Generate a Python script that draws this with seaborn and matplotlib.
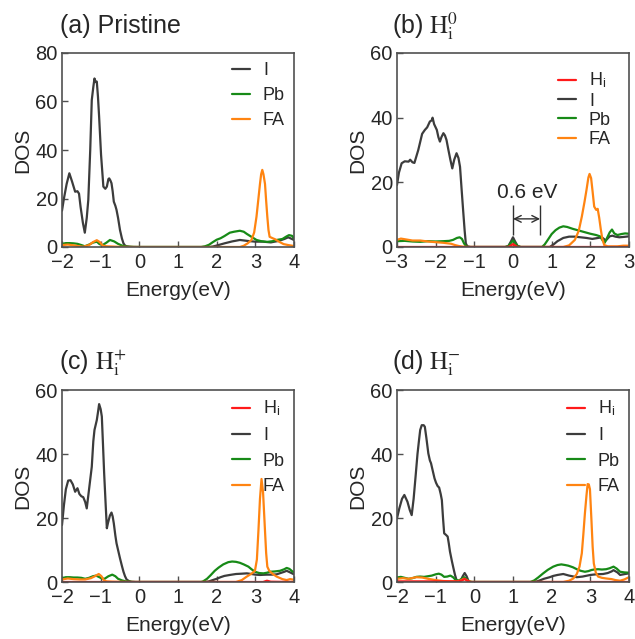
import matplotlib
matplotlib.use("Agg")
import matplotlib.pyplot as plt
import seaborn as sns
import pandas as pd

# ---------------- data (Energy eV, DOS) ----------------
a_I = [(-2.0, 15), (-1.95, 20), (-1.88, 26), (-1.81, 30.4), (-1.74, 27), (-1.66, 22.8), (-1.6, 23), (-1.56, 22),
       (-1.52, 16.6), (-1.46, 10), (-1.41, 5.9), (-1.36, 12), (-1.32, 19.4), (-1.27, 40), (-1.23, 60.6), (-1.19, 66),
       (-1.16, 69.5), (-1.13, 68), (-1.10, 68.2), (-1.07, 62), (-1.04, 53.7), (-0.99, 38), (-0.93, 24.9), (-0.88, 24),
       (-0.84, 24.9), (-0.80, 28), (-0.78, 28.3), (-0.75, 27.5), (-0.72, 26.3), (-0.69, 23), (-0.66, 18.7), (-0.62, 17),
       (-0.59, 15.3), (-0.55, 12), (-0.50, 7), (-0.45, 3.5), (-0.41, 1.5), (-0.37, 0.6), (-0.33, 0.3), (-0.25, 0.1),
       (-0.15, 0), (1.8, 0), (1.9, 0.2), (2.0, 0.6), (2.2, 1.5), (2.4, 2.3), (2.6, 2.9), (2.8, 2.5), (3.0, 2.2),
       (3.2, 2.2), (3.4, 1.9), (3.6, 2.5), (3.75, 3.3), (3.85, 4.0), (3.92, 3.5), (4.0, 2.9)]
a_Pb = [(-2.0, 1.3), (-1.9, 1.6), (-1.8, 1.6), (-1.7, 1.5), (-1.6, 1.3), (-1.5, 0.8), (-1.41, 0.3), (-1.3, 1.0),
        (-1.2, 1.8), (-1.1, 2.2), (-1.03, 1.2), (-0.95, 0.8), (-0.85, 1.8), (-0.76, 2.9), (-0.65, 2.3), (-0.55, 1.3),
        (-0.45, 0.6), (-0.35, 0.2), (-0.2, 0.05), (0.0, 0), (1.6, 0), (1.7, 0.3), (1.8, 0.9), (1.9, 2.0), (2.0, 3.0),
        (2.1, 3.6), (2.2, 4.5), (2.34, 5.9), (2.45, 6.3), (2.6, 6.7), (2.7, 6.3), (2.78, 5.4), (2.9, 4.2), (3.03, 2.9),
        (3.15, 2.4), (3.3, 2.1), (3.45, 2.4), (3.55, 2.9), (3.7, 3.3), (3.8, 4.3), (3.87, 4.9), (3.95, 4.6), (4.0, 3.5)]
a_FA = [(-2.0, 0.8), (-1.85, 1.0), (-1.7, 0.7), (-1.55, 0.3), (-1.45, 0.1), (-1.3, 0.8), (-1.2, 2.0), (-1.1, 2.8),
        (-1.02, 2.0), (-0.95, 0.6), (-0.85, 0.3), (-0.7, 0.2), (-0.5, 0.05), (0.0, 0), (2.6, 0), (2.7, 0.5),
        (2.8, 1.5), (2.9, 2.9), (2.97, 6), (3.03, 12.5), (3.08, 20), (3.12, 26), (3.15, 30), (3.18, 31.8), (3.21, 30),
        (3.25, 26), (3.28, 19), (3.31, 12.5), (3.34, 7), (3.37, 4.2), (3.45, 3.6), (3.51, 3.2), (3.6, 2.3),
        (3.73, 1.2), (3.85, 0.8), (4.0, 0.4)]

b_H = [(-3.0, 0), (-0.12, 0), (-0.05, 0.5), (0.0, 0.9), (0.05, 0.5), (0.12, 0), (3.0, 0)]
b_I = [(-3.0, 19.2), (-2.95, 23), (-2.88, 25.9), (-2.8, 26.5), (-2.7, 26.4), (-2.66, 27), (-2.6, 26.2), (-2.55, 26),
       (-2.5, 28), (-2.45, 30), (-2.41, 32), (-2.35, 35), (-2.28, 36.2), (-2.22, 37), (-2.15, 38.8), (-2.1, 39.2),
       (-2.08, 40), (-2.04, 38), (-1.97, 36.2), (-1.93, 34), (-1.89, 32.6), (-1.85, 34), (-1.8, 35.2), (-1.76, 34.5),
       (-1.72, 33.1), (-1.67, 30), (-1.62, 27), (-1.57, 24.3), (-1.52, 27), (-1.46, 29), (-1.41, 27.5), (-1.37, 24.8),
       (-1.33, 18), (-1.29, 11.4), (-1.25, 5), (-1.22, 1.1), (-1.18, 0.2), (-1.1, 0), (-0.2, 0), (-0.12, 0.3),
       (-0.05, 1.8), (0.0, 3.0), (0.05, 1.8), (0.12, 0.3), (0.2, 0), (0.95, 0), (1.05, 0.8), (1.15, 1.8), (1.3, 2.8),
       (1.45, 3.2), (1.6, 3.2), (1.75, 3.0), (1.9, 2.8), (2.05, 2.5), (2.2, 2.8), (2.3, 3.0), (2.4, 2.0), (2.5, 3.3),
       (2.57, 3.5), (2.65, 3.2), (2.75, 3.0), (2.85, 3.1), (3.0, 3.3)]
b_Pb = [(-3.0, 1.8), (-2.8, 1.9), (-2.6, 1.7), (-2.4, 1.6), (-2.2, 1.8), (-2.0, 1.7), (-1.8, 1.8), (-1.65, 1.9),
        (-1.55, 2.2), (-1.45, 2.8), (-1.38, 3.0), (-1.32, 2.5), (-1.27, 1.2), (-1.22, 0.3), (-1.15, 0), (-0.2, 0),
        (-0.12, 0.3), (-0.05, 1.3), (0.0, 2.0), (0.05, 1.3), (0.12, 0.3), (0.2, 0), (0.75, 0), (0.82, 0.8),
        (0.9, 2.2), (1.0, 4.0), (1.1, 5.2), (1.2, 6.0), (1.3, 6.4), (1.4, 6.2), (1.55, 5.6), (1.7, 5.1), (1.85, 4.6),
        (2.0, 4.1), (2.15, 3.7), (2.25, 3.3), (2.32, 2.0), (2.37, 1.3), (2.42, 2.5), (2.5, 4.5), (2.56, 5.4),
        (2.62, 4.2), (2.7, 3.7), (2.8, 4.0), (2.9, 4.2), (3.0, 4.1)]
b_FA = [(-3.0, 2.2), (-2.9, 2.6), (-2.8, 2.4), (-2.6, 2.0), (-2.4, 2.0), (-2.2, 1.7), (-2.0, 1.5), (-1.8, 1.3),
        (-1.6, 1.0), (-1.5, 0.6), (-1.4, 0.3), (-1.3, 0.1), (-1.2, 0), (1.3, 0), (1.45, 0.5), (1.6, 2.2), (1.7, 5),
        (1.78, 9.4), (1.85, 14), (1.9, 17.6), (1.95, 21.5), (1.98, 22.6), (2.02, 21.3), (2.06, 17), (2.1, 12.5),
        (2.15, 11.5), (2.19, 11.8), (2.23, 9), (2.27, 5.5), (2.31, 2.5), (2.36, 0.6), (2.45, 0.2), (2.7, 0.2),
        (2.85, 0.4), (3.0, 0.4)]

c_H = [(-2.0, 0), (3.2, 0), (3.3, 0.4), (3.4, 0.1), (4.0, 0)]
c_I = [(-2.0, 17.8), (-1.95, 24), (-1.9, 29), (-1.84, 31.7), (-1.78, 31.8), (-1.72, 30.5), (-1.66, 28.2),
       (-1.6, 29.3), (-1.55, 27.5), (-1.5, 26.8), (-1.45, 26.5), (-1.4, 25), (-1.36, 23), (-1.3, 29), (-1.23, 36),
       (-1.19, 44), (-1.16, 47.5), (-1.1, 50.6), (-1.07, 53), (-1.04, 55.6), (-1.0, 54), (-0.97, 51.7), (-0.94, 43),
       (-0.91, 34), (-0.87, 24), (-0.84, 16.8), (-0.81, 18.5), (-0.76, 20.8), (-0.72, 21.7), (-0.69, 20.5),
       (-0.66, 18.3), (-0.62, 14.5), (-0.59, 12.1), (-0.55, 10), (-0.5, 7.4), (-0.45, 5), (-0.41, 3.2), (-0.37, 1.8),
       (-0.33, 0.8), (-0.27, 0.3), (-0.2, 0.05), (-0.1, 0), (1.7, 0), (1.8, 0.2), (1.9, 0.6), (2.0, 1.0), (2.1, 1.5),
       (2.2, 1.9), (2.34, 2.2), (2.5, 2.5), (2.65, 2.6), (2.78, 2.7), (2.9, 2.5), (3.0, 2.3), (3.12, 2.2), (3.3, 2.3),
       (3.45, 2.3), (3.55, 2.4), (3.65, 2.8), (3.75, 3.2), (3.81, 3.5), (3.9, 3.0), (4.0, 2.4)]
c_Pb = [(-2.0, 1.2), (-1.9, 1.5), (-1.8, 1.5), (-1.7, 1.4), (-1.6, 1.4), (-1.5, 1.3), (-1.4, 1.0), (-1.3, 1.3),
        (-1.2, 1.8), (-1.12, 2.0), (-1.05, 1.6), (-0.97, 1.1), (-0.9, 1.0), (-0.8, 1.8), (-0.7, 2.3), (-0.62, 1.8),
        (-0.55, 1.0), (-0.45, 0.5), (-0.35, 0.2), (-0.2, 0.05), (-0.1, 0), (1.6, 0), (1.65, 0.2), (1.75, 1.0),
        (1.85, 2.2), (1.95, 3.5), (2.05, 4.5), (2.17, 5.5), (2.3, 6.2), (2.4, 6.4), (2.5, 6.3), (2.6, 6.0),
        (2.7, 5.5), (2.82, 4.8), (2.9, 4.0), (2.99, 3.2), (3.1, 2.8), (3.21, 2.7), (3.3, 2.9), (3.38, 3.2),
        (3.5, 3.3), (3.64, 3.5), (3.75, 4.0), (3.81, 4.4), (3.88, 4.1), (3.95, 3.4), (4.0, 3.0)]
c_FA = [(-2.0, 0.8), (-1.85, 1.1), (-1.7, 0.9), (-1.55, 0.8), (-1.4, 0.8), (-1.25, 1.2), (-1.15, 1.8), (-1.05, 2.5),
        (-0.98, 1.8), (-0.92, 0.6), (-0.85, 0.2), (-0.7, 0.1), (-0.5, 0.05), (-0.3, 0), (2.5, 0), (2.65, 0.6),
        (2.78, 1.7), (2.9, 2.6), (2.99, 3.5), (3.04, 7), (3.08, 16), (3.12, 26), (3.16, 32.2), (3.2, 28),
        (3.25, 16), (3.28, 9), (3.31, 4.8), (3.36, 3.5), (3.45, 2.5), (3.55, 1.7), (3.7, 0.9), (3.81, 0.6),
        (3.9, 0.9), (4.0, 0.7)]

d_H = [(-2.0, 0.2), (-0.4, 0.2), (-0.3, 0.6), (-0.25, 1.0), (-0.2, 0.5), (-0.1, 0.0), (4.0, 0.0)]
d_I = [(-2.0, 19.9), (-1.94, 23), (-1.87, 26), (-1.81, 27.2), (-1.73, 25.1), (-1.67, 22.5), (-1.62, 20.9),
       (-1.57, 26), (-1.52, 32.9), (-1.47, 40), (-1.43, 44.4), (-1.4, 47.5), (-1.36, 49), (-1.31, 49), (-1.28, 48.5),
       (-1.24, 45), (-1.19, 40.2), (-1.15, 38), (-1.12, 37.1), (-1.08, 35), (-1.03, 32.4), (-0.99, 31), (-0.95, 30),
       (-0.91, 29.5), (-0.87, 27.5), (-0.84, 25.6), (-0.81, 20), (-0.78, 15.2), (-0.74, 14.8), (-0.69, 14.2),
       (-0.66, 12), (-0.63, 9.5), (-0.58, 6.5), (-0.54, 4.3), (-0.5, 2.2), (-0.46, 0.6), (-0.41, 0.1), (-0.35, 0.5),
       (-0.3, 1.8), (-0.25, 2.8), (-0.2, 1.8), (-0.15, 0.3), (-0.1, 0), (1.55, 0), (1.65, 0.3), (1.8, 1.0),
       (1.95, 1.5), (2.04, 1.9), (2.15, 2.2), (2.3, 2.5), (2.45, 2.0), (2.65, 1.5), (2.8, 1.7), (3.0, 2.2),
       (3.15, 2.4), (3.33, 2.5), (3.45, 2.8), (3.55, 3.3), (3.6, 3.7), (3.7, 3.0), (3.77, 2.2), (3.9, 2.5), (4.0, 2.7)]
d_Pb = [(-2.0, 1.4), (-1.9, 1.6), (-1.8, 1.3), (-1.7, 1.0), (-1.6, 1.2), (-1.5, 1.6), (-1.4, 1.7), (-1.3, 1.6),
        (-1.2, 1.8), (-1.1, 2.0), (-1.0, 2.4), (-0.92, 2.6), (-0.85, 2.3), (-0.78, 1.6), (-0.7, 1.7), (-0.62, 2.0),
        (-0.55, 1.5), (-0.48, 0.6), (-0.4, 0.5), (-0.32, 1.0), (-0.26, 1.5), (-0.2, 0.8), (-0.12, 0.1), (-0.05, 0),
        (1.45, 0), (1.55, 0.5), (1.65, 1.4), (1.78, 2.7), (1.9, 3.8), (2.04, 4.8), (2.15, 5.3), (2.25, 5.5),
        (2.35, 5.3), (2.43, 5.1), (2.55, 4.6), (2.65, 4.0), (2.75, 3.5), (2.86, 3.2), (2.95, 3.4), (3.03, 3.75),
        (3.1, 3.9), (3.2, 4.0), (3.3, 3.9), (3.41, 4.0), (3.5, 4.3), (3.6, 4.8), (3.68, 4.2), (3.77, 3.2),
        (3.88, 3.0), (4.0, 2.9)]
d_FA = [(-2.0, 1.0), (-1.85, 1.2), (-1.7, 1.0), (-1.5, 1.5), (-1.35, 1.4), (-1.2, 1.0), (-1.0, 0.6), (-0.8, 0.3),
        (-0.6, 0.2), (-0.45, 0.2), (-0.35, 0.5), (-0.27, 1.0), (-0.2, 0.6), (-0.12, 0.1), (-0.05, 0), (2.3, 0),
        (2.45, 0.4), (2.56, 1.1), (2.65, 2.5), (2.72, 4.8), (2.78, 9), (2.82, 15), (2.86, 21.5), (2.9, 27),
        (2.93, 30.6), (2.96, 30.5), (2.99, 29), (3.01, 24), (3.03, 19), (3.06, 11), (3.09, 5.8), (3.14, 3),
        (3.2, 1.7), (3.3, 1.3), (3.41, 1.1), (3.55, 0.9), (3.65, 0.6), (3.77, 0.4), (3.88, 0.8), (4.0, 1.5)]

panel_titles = ["(a) Pristine", r"(b) $\mathrm{H}_\mathrm{i}^{0}$",
                r"(c) $\mathrm{H}_\mathrm{i}^{+}$", r"(d) $\mathrm{H}_\mathrm{i}^{-}$"]
xlims = [(-2, 4), (-3, 3), (-2, 4), (-2, 4)]
ylims = [(0, 80), (0, 60), (0, 60), (0, 60)]
species_labels = {"H": r"H$_\mathregular{i}$", "I": "I", "Pb": "Pb", "FA": "FA"}
gap_x = [0.0, 0.7]
gap_label = "0.6 eV"

series = {
    "a": {"I": a_I, "Pb": a_Pb, "FA": a_FA},
    "b": {"H": b_H, "I": b_I, "Pb": b_Pb, "FA": b_FA},
    "c": {"H": c_H, "I": c_I, "Pb": c_Pb, "FA": c_FA},
    "d": {"H": d_H, "I": d_I, "Pb": d_Pb, "FA": d_FA},
}

rows = []
for p, dct in series.items():
    for sp, pts in dct.items():
        for i, (e, v) in enumerate(pts):
            rows.append({"panel": p, "species": sp, "order": i, "E": e, "DOS": v})
df = pd.DataFrame(rows)

# ---------------- style ----------------
sns.set_theme(style="ticks")
plt.rcParams["font.family"] = ["Liberation Sans", "DejaVu Sans"]
plt.rcParams["mathtext.fontset"] = "stix"
plt.rcParams["axes.unicode_minus"] = True

colors = {"H": "#ff1a1a", "I": "#3c3c3c", "Pb": "#178a17", "FA": "#ff8411"}
edge = "#505050"

fig = plt.figure(figsize=(6.35, 6.39), dpi=100)
W, H = 635, 639
rects = [(62, 53, 294, 247), (397, 53, 629, 247), (62, 390, 294, 582), (397, 390, 629, 582)]
title_pos = [(60, 33), (392, 33), (59, 369), (392, 369)]
spacing = [0.45, 0.12, 0.48, 0.48]
border = [0.1, 0.6, 0.1, 0.1]

for k, p in enumerate(["a", "b", "c", "d"]):
    l, t, r, b = rects[k]
    ax = fig.add_axes([l / W, 1 - b / H, (r - l) / W, (b - t) / H])
    sub = df[df.panel == p]
    order = [s for s in ["I", "Pb", "FA", "H"] if s in sub.species.unique()]
    for sp in order:
        d = sub[sub.species == sp]
        sns.lineplot(data=d, x="E", y="DOS", sort=False, estimator=None, color=colors[sp],
                     linewidth=1.6, ax=ax, label=species_labels[sp])
    ax.set_xlim(*xlims[k])
    ax.set_ylim(*ylims[k])
    ax.set_xticks(range(xlims[k][0], xlims[k][1] + 1))
    ax.set_yticks(range(0, ylims[k][1] + 1, 20))
    ax.tick_params(direction="in", length=4, width=1, labelsize=14.5, color=edge, pad=3)
    ax.tick_params(axis="x", pad=4)
    for s in ax.spines.values():
        s.set_visible(True)
        s.set_color(edge)
        s.set_linewidth(1.2)
    ax.set_xlabel("Energy(eV)", fontsize=15, labelpad=7)
    ax.set_ylabel("DOS", fontsize=15, labelpad=2)
    handles, labels = ax.get_legend_handles_labels()
    legend_order = [species_labels[s] for s in ["H", "I", "Pb", "FA"] if s in order]
    hmap = dict(zip(labels, handles))
    ax.legend([hmap[lb] for lb in legend_order], legend_order, loc="upper right", frameon=False,
              fontsize=13, handlelength=1.0, handletextpad=0.7, borderaxespad=border[k],
              labelspacing=spacing[k])
    fig.text(title_pos[k][0] / W, 1 - title_pos[k][1] / H, panel_titles[k], fontsize=18,
             ha="left", va="baseline")
    if p == "b":
        ax.vlines(gap_x, 3.7, 13, color="#303030", linewidth=1)
        ax.annotate("", xy=(gap_x[0], 8.7), xytext=(gap_x[1], 8.7),
                    arrowprops=dict(arrowstyle="<->", color="#303030", lw=1, shrinkA=0, shrinkB=0))
        ax.text(sum(gap_x) / 2 + 0.02, 15.2, gap_label, fontsize=15, ha="center", va="baseline")

fig.savefig("out.png", dpi=100)
